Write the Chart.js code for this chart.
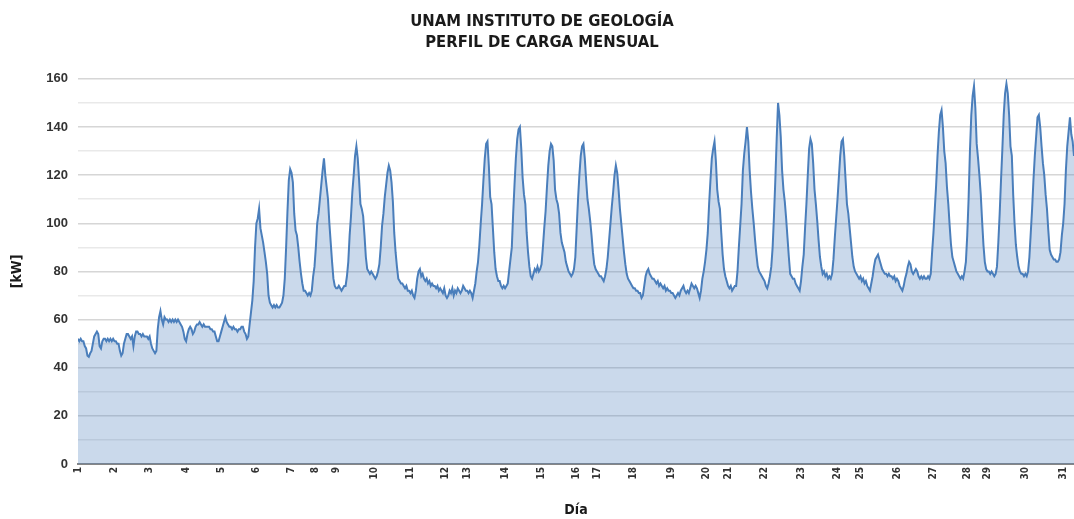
<!DOCTYPE html>
<html>
<head>
<meta charset="utf-8">
<script src="https://cdn.jsdelivr.net/npm/chart.js@4.4.0/dist/chart.umd.min.js"></script>
<style>
  html, body { margin: 0; padding: 0; background: #ffffff; }
  #wrap { width: 1074px; height: 519px; }
</style>
</head>
<body>
<div id="wrap"><canvas id="perfilCarga" width="1074" height="519"></canvas></div>
<script>
// Lecturas horarias aproximadas (kW), una lista por dia
const dia1 = [52, 51, 52, 51, 51, 49, 48, 45, 44.5, 46, 47, 50, 53, 54, 55, 54, 49, 48, 51, 52, 52, 51, 52, 51];
const dia2 = [52, 51, 52, 51, 51, 50, 50, 47, 45, 46, 50, 52, 54, 54, 53, 52, 53, 49, 53, 55, 55, 54, 54, 53];
const dia3 = [54, 53, 53, 53, 52, 53, 50, 48, 47, 46, 47, 56, 61, 63.5, 60, 58, 61, 60, 60, 59, 60, 59, 60, 59];
const dia4 = [60, 59, 60, 59, 58, 57, 55, 52, 51, 54, 56, 57, 56, 54, 55, 57, 58, 58, 59, 58, 57, 58, 57, 57];
const dia5 = [57, 57, 56, 56, 55, 55, 53, 51, 51, 53, 55, 57, 59, 61, 59, 58, 57, 57, 56, 57, 56, 56, 55, 56];
const dia6 = [56, 57, 57, 55, 54, 52, 53, 58, 63, 68, 76, 90, 100, 102, 106, 98, 95, 92, 88, 84, 79, 70, 67, 66];
const dia7 = [65, 66, 65, 66, 65, 65, 66, 67, 70, 77, 90, 105, 118, 122.5, 121, 117, 104, 97, 95, 90, 84, 79, 75, 72];
const dia8 = [72, 71, 70, 71, 70, 72, 78, 82, 90, 100, 104, 110, 116, 122, 127, 120, 115, 110, 100, 92, 84, 77, 74, 73];
const dia9 = [73, 74, 73, 72, 73, 74, 74, 78, 84, 95, 103, 113, 120, 128, 132, 127, 118, 108, 106, 103, 95, 86, 81, 80];
const dia10 = [79, 80, 79, 78, 77, 78, 80, 83, 90, 99, 104, 111, 116, 121, 124, 122, 117, 109, 96, 88, 82, 77, 76, 75];
const dia11 = [75, 74, 73, 74, 72, 72, 71, 72, 70, 69, 72, 77, 80, 81, 78, 79, 77, 76, 77, 75, 76, 74, 75, 74];
const dia12 = [74, 73, 74, 72, 73, 72, 71, 73, 70, 69, 70, 72, 71, 73, 70, 72, 71, 73, 72, 71, 72, 74, 73, 72];
const dia13 = [72, 71, 72, 71, 69, 72, 75, 80, 84, 91, 100, 108, 118, 127, 133, 134, 124, 111, 108, 98, 88, 81, 78, 76];
const dia14 = [76, 74, 73, 74, 73, 74, 75, 80, 85, 90, 104, 116, 127, 135, 139, 140, 131, 119, 112, 108, 96, 88, 82, 78];
const dia15 = [77, 79, 81, 80, 82, 80, 81, 83, 90, 98, 105, 115, 124, 130, 133, 132, 126, 114, 110, 108, 104, 96, 92, 90];
const dia16 = [88, 84, 82, 80, 79, 78, 79, 81, 86, 98, 110, 120, 128, 132, 133, 127, 118, 110, 106, 101, 95, 88, 83, 81];
const dia17 = [80, 79, 78, 78, 77, 76, 78, 81, 86, 93, 100, 107, 113, 120, 124, 121, 114, 106, 100, 94, 88, 83, 79, 77];
const dia18 = [76, 75, 74, 73, 73, 72, 72, 71, 71, 69, 70, 74, 78, 80, 81, 79, 78, 77, 77, 76, 75, 76, 74, 75];
const dia19 = [74, 73, 74, 72, 73, 72, 72, 71, 71, 70, 69, 70, 71, 70, 72, 73, 74, 72, 71, 72, 71, 73, 75, 74];
const dia20 = [73, 74, 73, 71, 69, 72, 77, 80, 84, 89, 96, 108, 118, 127, 131, 134, 126, 114, 109, 106, 96, 87, 81, 78];
const dia21 = [76, 74, 73, 74, 72, 73, 74, 74, 80, 90, 99, 108, 122, 129, 134, 140, 134, 122, 113, 106, 100, 93, 87, 82];
const dia22 = [80, 79, 78, 77, 76, 74, 73, 75, 78, 82, 90, 103, 118, 135, 150, 145, 136, 122, 114, 109, 102, 94, 86, 79];
const dia23 = [78, 77, 77, 75, 74, 73, 72, 76, 82, 87, 98, 108, 120, 131, 135, 133, 125, 114, 108, 101, 93, 86, 82, 79];
const dia24 = [80, 78, 79, 77, 78, 77, 79, 85, 94, 102, 110, 119, 128, 134, 135, 128, 118, 108, 104, 98, 92, 86, 82, 80];
const dia25 = [79, 78, 77, 78, 76, 77, 75, 76, 74, 73, 72, 75, 78, 82, 85, 86, 87, 85, 83, 81, 80, 79, 79, 78];
const dia26 = [79, 78, 78, 77, 78, 76, 77, 76, 74, 73, 72, 74, 77, 79, 82, 84, 83, 80, 79, 80, 81, 80, 78, 77];
const dia27 = [78, 77, 78, 77, 77, 78, 77, 79, 88, 96, 106, 116, 128, 138, 145, 147, 140, 130, 125, 115, 108, 99, 91, 86];
const dia28 = [84, 82, 80, 79, 78, 77, 78, 77, 80, 84, 95, 110, 130, 145, 153, 157, 148, 133, 127, 120, 112, 101, 91, 84];
const dia29 = [81, 80, 80, 79, 80, 79, 78, 79, 82, 92, 104, 118, 131, 145, 154, 158, 154, 145, 132, 128, 112, 100, 91, 86];
const dia30 = [82, 80, 79, 79, 78, 79, 78, 80, 86, 96, 106, 118, 128, 136, 144, 145, 140, 132, 125, 120, 112, 106, 97, 89];
const dia31 = [87, 86, 85, 85, 84, 84, 85, 88, 95, 100, 108, 122, 132, 138, 144, 137, 134, 128];

const dias = [dia1, dia2, dia3, dia4, dia5, dia6, dia7, dia8, dia9, dia10, dia11, dia12, dia13, dia14, dia15, dia16,
  dia17, dia18, dia19, dia20, dia21, dia22, dia23, dia24, dia25, dia26, dia27, dia28, dia29, dia30, dia31];

// etiquetas del eje X y la hora (desde el inicio del mes) en que aparece cada una
const etiquetasDia = ["1", "2", "3", "4", "5", "6", "7", "8", "9", "10", "11", "12", "13", "14", "15", "16",
  "17", "18", "19", "20", "21", "22", "23", "24", "25", "26", "27", "28", "29", "30", "31"];
const horaEtiqueta = [0, 27, 53, 80, 106, 132, 158, 176, 191, 219, 246, 272, 288, 316, 343, 369,
  384, 411, 439, 465, 481, 508, 535, 562, 579, 606, 633, 658, 673, 701, 729];

const ticksY = [0, 20, 40, 60, 80, 100, 120, 140, 160];

// puntos {x: hora, y: kW}
const puntos = [];
dias.forEach((dia, d) => {
  dia.forEach((kw, h) => puntos.push({ x: d * 24 + h, y: kw }));
});
const ultimaHora = puntos[puntos.length - 1].x;

const fuenteAngosta = "'Liberation Sans Narrow', 'DejaVu Sans Condensed', 'Liberation Sans', sans-serif";
const fuente = "'Liberation Sans', Arial, sans-serif";

const ctx = document.getElementById("perfilCarga").getContext("2d");

new Chart(ctx, {
  type: "line",
  data: {
    datasets: [
      {
        label: "kW",
        data: puntos,
        borderColor: "#4a7ebb",
        borderWidth: 2,
        backgroundColor: "rgba(79, 129, 189, 0.3)",
        fill: "origin",
        pointRadius: 0,
        tension: 0,
      },
    ],
  },
  options: {
    responsive: false,
    animation: false,
    devicePixelRatio: 1,
    layout: {
      padding: { left: 10, right: 0, top: 0, bottom: 0 },
    },
    plugins: {
      legend: { display: false },
      tooltip: { enabled: false },
      title: {
        display: true,
        text: ["UNAM INSTITUTO DE GEOLOGÍA", "PERFIL DE CARGA MENSUAL"],
        color: "#1a1a1a",
        font: { family: fuenteAngosta, size: 16.5, weight: "bold", lineHeight: 1.3 },
        padding: { top: 11, bottom: 25 },
      },
    },
    scales: {
      x: {
        type: "linear",
        min: 0,
        max: ultimaHora,
        afterBuildTicks: (scale) => {
          scale.ticks = horaEtiqueta.map((h) => ({ value: h }));
        },
        afterFit: (scale) => {
          scale.height = 55;
          scale.paddingLeft = 0;
          scale.paddingRight = 0;
        },
        ticks: {
          autoSkip: false,
          minRotation: 90,
          maxRotation: 90,
          padding: 3,
          color: "#333333",
          font: { family: fuenteAngosta, size: 10, weight: "bold" },
          callback: (value, index) => etiquetasDia[index],
        },
        grid: { display: false, drawTicks: false },
        border: { display: true, color: "#868686", width: 2 },
        title: {
          display: true,
          text: "Día",
          color: "#1a1a1a",
          font: { family: fuenteAngosta, size: 14, weight: "bold" },
          padding: { top: 0, bottom: 0 },
        },
      },
      y: {
        min: 0,
        max: 160,
        afterFit: (scale) => {
          scale.width = 68;
        },
        ticks: {
          stepSize: 10,
          padding: 10,
          color: "#333333",
          font: { family: fuente, size: 13, weight: "bold" },
          callback: (value) => (ticksY.includes(value) ? value : ""),
        },
        grid: {
          drawTicks: false,
          lineWidth: 1.5,
          color: (c) => (c.tick && ticksY.includes(c.tick.value) ? "#d6d6d6" : "#e9e9e9"),
        },
        border: { display: false },
        title: {
          display: true,
          text: "[kW]",
          color: "#1a1a1a",
          font: { family: fuenteAngosta, size: 14, weight: "bold", lineHeight: 1 },
          padding: { top: 0, bottom: 0 },
        },
      },
    },
  },
});
</script>
</body>
</html>
